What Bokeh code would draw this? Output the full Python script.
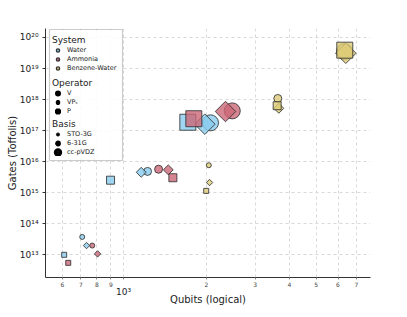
import numpy as np
from bokeh.plotting import figure
from bokeh.models import (ColumnDataSource, FixedTicker, LogAxis, Legend, LegendItem,
                          BoxAnnotation, Range1d)
from bokeh.embed import file_html
from bokeh.resources import INLINE

systems = ["Water", "Ammonia", "Benzene-Water"]
operators = ["V", "VPₛ", "P"]
bases = ["STO-3G", "6-31G", "cc-pVDZ"]
system_colors = ["#88CCEE", "#CC6677", "#DDCC77"]

# values ordered by basis: STO-3G, 6-31G, cc-pVDZ
water_V_qubits = [708, 1222, 2068]
water_V_gates = [3.7e13, 4.8e15, 1.77e17]
water_VP_qubits = [734, 1159, 1972]
water_VP_gates = [1.95e13, 4.5e15, 1.6e17]
water_P_qubits = [609, 897, 1711]
water_P_gates = [9.8e12, 2.5e15, 1.85e17]

ammonia_V_qubits = [770, 1340, 2480]
ammonia_V_gates = [1.95e13, 5.65e15, 4.3e17]
ammonia_VP_qubits = [805, 1453, 2344]
ammonia_VP_gates = [1.05e13, 5.4e15, 4.1e17]
ammonia_P_qubits = [630, 1510, 1799]
ammonia_P_gates = [5.4e12, 3.0e15, 2.4e17]

benzene_V_qubits = [2039, 3628, 6333]
benzene_V_gates = [7.6e15, 1.08e18, 3.5e19]
benzene_VP_qubits = [2051, 3659, 6402]
benzene_VP_gates = [2.1e15, 5.2e17, 3.1e19]
benzene_P_qubits = [1995, 3609, 6349]
benzene_P_gates = [1.13e15, 6.3e17, 3.9e19]

x_ticks = [600, 700, 800, 900, 1000, 2000, 3000, 4000, 5000, 6000, 7000]
x_tick_labels = ["6", "7", "8", "9", "", "2", "3", "4", "5", "6", "7"]
y_ticks = [1e13, 1e14, 1e15, 1e16, 1e17, 1e18, 1e19, 1e20]
y_tick_labels = ["10¹³", "10¹⁴", "10¹⁵", "10¹⁶", "10¹⁷", "10¹⁸", "10¹⁹", "10²⁰"]

data = {
    "Water": [(water_V_qubits, water_V_gates), (water_VP_qubits, water_VP_gates), (water_P_qubits, water_P_gates)],
    "Ammonia": [(ammonia_V_qubits, ammonia_V_gates), (ammonia_VP_qubits, ammonia_VP_gates), (ammonia_P_qubits, ammonia_P_gates)],
    "Benzene-Water": [(benzene_V_qubits, benzene_V_gates), (benzene_VP_qubits, benzene_VP_gates), (benzene_P_qubits, benzene_P_gates)],
}

base_sizes = [5, 8, 16]
diamond_sizes = [4.5, 7, 14.5]

FONT = "DejaVu Sans"

p = figure(frame_width=325, frame_height=249, x_axis_type="log", y_axis_type="log",
           x_range=Range1d(521, 7870), y_range=Range1d(1.82e12, 1.95e20),
           output_backend="svg", toolbar_location=None,
           min_border_left=45, min_border_right=29, min_border_top=28, min_border_bottom=30)
p.outline_line_color = None

for sys_name, color in zip(systems, system_colors):
    for k, (q, g) in enumerate(data[sys_name]):
        if k == 0:
            marker, sizes, angle = "circle", base_sizes, 0.0
        elif k == 1:
            marker, sizes, angle = "square", diamond_sizes, np.pi / 4
        else:
            marker, sizes, angle = "square", base_sizes, 0.0
        src = ColumnDataSource(dict(x=q, y=g, s=sizes))
        p.scatter("x", "y", size="s", source=src, marker=marker, angle=angle,
                  fill_color=color, fill_alpha=0.8, line_color="#333333",
                  line_alpha=0.85, line_width=1)

# axes
xa = p.xaxis[0]
xa.ticker = FixedTicker(ticks=x_ticks)
xa.major_label_overrides = {t: l for t, l in zip(x_ticks, x_tick_labels)}
xa.major_label_text_font_size = "6px"
xa.major_label_text_font = FONT
xa.major_label_text_color = "#444444"
xa.major_label_standoff = 2
xa.major_tick_out = 2
xa.major_tick_in = 0
xa.minor_tick_out = 0
xa.major_tick_line_color = "#888888"
xa.minor_tick_line_color = None
xa.axis_line_color = "#333333"

xa2 = LogAxis(ticker=FixedTicker(ticks=[1000]), major_label_overrides={1000: "10³"},
              axis_line_color=None, major_tick_line_color=None, minor_tick_line_color=None,
              major_tick_out=0, major_tick_in=0, minor_tick_out=0, minor_tick_in=0,
              major_label_text_font_size="9px", major_label_text_font=FONT,
              major_label_text_color="#222222", major_label_standoff=-3,
              axis_label="Qubits (logical)", axis_label_text_font_size="10px",
              axis_label_text_font=FONT, axis_label_text_font_style="normal",
              axis_label_text_color="#222222", axis_label_standoff=-6)
p.add_layout(xa2, "below")

ya = p.yaxis[0]
ya.ticker = FixedTicker(ticks=y_ticks)
ya.major_label_overrides = {t: l for t, l in zip(y_ticks, y_tick_labels)}
ya.major_label_text_font_size = "9px"
ya.major_label_text_font = FONT
ya.major_label_text_color = "#222222"
ya.major_label_standoff = 4
ya.major_tick_out = 3
ya.major_tick_in = 0
ya.minor_tick_out = 0
ya.minor_tick_line_color = None
ya.axis_line_color = "#333333"
ya.major_tick_line_color = "#333333"
ya.axis_label = "Gates (Toffolis)"
ya.axis_label_text_font_size = "10px"
ya.axis_label_text_font = FONT
ya.axis_label_text_font_style = "normal"
ya.axis_label_text_color = "#222222"
ya.axis_label_standoff = -1

p.xgrid.ticker = FixedTicker(ticks=x_ticks)
p.ygrid.ticker = FixedTicker(ticks=y_ticks)
for gr in (p.xgrid[0], p.ygrid[0]):
    gr.grid_line_color = "#d9d9d9"
    gr.grid_line_dash = "3 3"
    gr.grid_line_width = 1

# legend frame
box = BoxAnnotation(left=4, right=77, bottom=117, top=248,
                    left_units="screen", right_units="screen",
                    top_units="screen", bottom_units="screen",
                    fill_color="white", fill_alpha=0.85,
                    line_color="#555555", line_width=1.2)
p.add_layout(box)

leg_kw = dict(glyph_width=11, glyph_height=8, label_height=8, spacing=1, padding=3,
              margin=0, label_standoff=4, label_text_font_size="6.5px",
              label_text_font=FONT, label_text_color="#1a1a1a",
              title_text_font_size="9px", title_text_font=FONT,
              title_text_font_style="normal", title_text_color="#1a1a1a",
              title_standoff=1, border_line_alpha=0, background_fill_alpha=0)

nan1 = [np.nan]

# System legend
sys_items = []
for name, color in zip(systems, system_colors):
    r = p.scatter(x=nan1, y=nan1, marker="circle", fill_color=color, line_color="#333333", line_width=1.4)
    sys_items.append(LegendItem(label=name, renderers=[r]))
p.add_layout(Legend(items=sys_items, title="System", location=(4, 202), **leg_kw))

# Operator legend
op_markers = ["circle", "diamond", "square"]
op_items = []
for name, mk in zip(operators, op_markers):
    r = p.scatter(x=nan1, y=nan1, marker=mk, fill_color="black", line_color="black", line_width=2.8)
    op_items.append(LegendItem(label=name, renderers=[r]))
p.add_layout(Legend(items=op_items, title="Operator", location=(4, 159), **leg_kw))

# Basis legend
basis_widths = [0.8, 2.6, 5.2]
basis_items = []
for name, lw in zip(bases, basis_widths):
    r = p.scatter(x=nan1, y=nan1, marker="circle", fill_color="black", line_color="black", line_width=lw)
    basis_items.append(LegendItem(label=name, renderers=[r]))
p.add_layout(Legend(items=basis_items, title="Basis", location=(4, 118), **leg_kw))

open("out.html", "w").write(file_html(p, INLINE))
